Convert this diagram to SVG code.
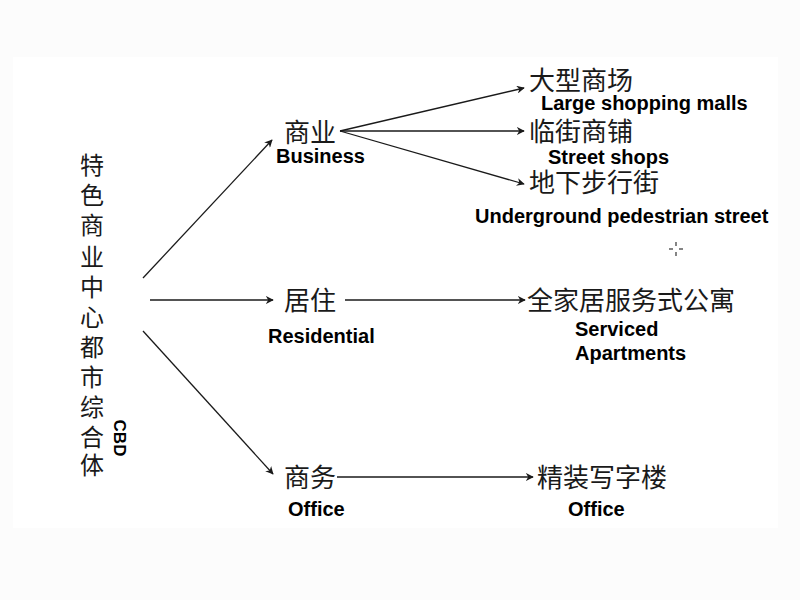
<svg xmlns="http://www.w3.org/2000/svg" width="800" height="600" viewBox="0 0 800 600">
  <style>
    .zh { font-family: "Noto Sans CJK SC", "Noto Sans", sans-serif; font-size: 26px; fill: #1a1a1a; }
    .zv { font-family: "Noto Sans CJK SC", "Noto Sans", sans-serif; font-size: 24px; fill: #1a1a1a; text-anchor: middle; }
    .en { font-family: "Liberation Sans", Arial, sans-serif; font-size: 20px; font-weight: bold; fill: #000; }
    .conn line { stroke: #1a1a1a; stroke-width: 1.3; fill: none; marker-end: url(#arr); }
  </style>
  <defs>
    <marker id="arr" viewBox="0 0 10 10" refX="9" refY="5" markerWidth="8" markerHeight="8" markerUnits="userSpaceOnUse" orient="auto">
      <path d="M0,0 L10,5 L0,10 L3,5 Z" fill="#1a1a1a"/>
    </marker>
  </defs>
  <rect x="0" y="0" width="800" height="600" fill="#fcfcfc"/>
  <rect x="13" y="57" width="765" height="471" fill="#ffffff"/>

  <g id="root">
    <text class="zv" x="92" y="174">特</text>
    <text class="zv" x="92" y="204">色</text>
    <text class="zv" x="92" y="234">商</text>
    <text class="zv" x="92" y="266">业</text>
    <text class="zv" x="92" y="296">中</text>
    <text class="zv" x="92" y="326">心</text>
    <text class="zv" x="92" y="356">都</text>
    <text class="zv" x="92" y="386">市</text>
    <text class="zv" x="92" y="416">综</text>
    <text class="zv" x="92" y="446">合</text>
    <text class="zv" x="92" y="474">体</text>
    <text class="en" transform="translate(114,438) rotate(90)" text-anchor="middle" style="font-size:17px">CBD</text>
  </g>

  <g id="business">
    <text class="zh" x="284" y="142">商业</text>
    <text class="en" x="276" y="163">Business</text>
  </g>
  <g id="malls">
    <text class="zh" x="529" y="90">大型商场</text>
    <text class="en" x="541" y="110">Large shopping malls</text>
  </g>
  <g id="shops">
    <text class="zh" x="529" y="141">临街商铺</text>
    <text class="en" x="548" y="164">Street shops</text>
  </g>
  <g id="underground">
    <text class="zh" x="529" y="192">地下步行街</text>
    <text class="en" x="475" y="223">Underground pedestrian street</text>
  </g>
  <g id="residential">
    <text class="zh" x="284" y="310">居住</text>
    <text class="en" x="268" y="343">Residential</text>
  </g>
  <g id="apartments">
    <text class="zh" x="527" y="310">全家居服务式公寓</text>
    <text class="en" x="575" y="336">Serviced</text>
    <text class="en" x="575" y="360">Apartments</text>
  </g>
  <g id="office">
    <text class="zh" x="284" y="487">商务</text>
    <text class="en" x="288" y="516">Office</text>
  </g>
  <g id="officebuilding">
    <text class="zh" x="537" y="487">精装写字楼</text>
    <text class="en" x="568" y="516">Office</text>
  </g>

  <g id="connectors" class="conn">
    <line x1="143" y1="278" x2="272" y2="140"/>
    <line x1="150" y1="300" x2="273" y2="300"/>
    <line x1="143" y1="331" x2="273" y2="474"/>
    <line x1="340" y1="131" x2="524" y2="88"/>
    <line x1="340" y1="131" x2="524" y2="131"/>
    <line x1="340" y1="131" x2="524" y2="184"/>
    <line x1="345" y1="300" x2="525" y2="300"/>
    <line x1="337" y1="477" x2="533" y2="477"/>
  </g>

  <g id="crosshair" stroke="#333" stroke-width="1.2">
    <line x1="669" y1="249" x2="673" y2="249"/>
    <line x1="679" y1="249" x2="683" y2="249"/>
    <line x1="676" y1="242" x2="676" y2="246"/>
    <line x1="676" y1="252" x2="676" y2="256"/>
  </g>
</svg>
